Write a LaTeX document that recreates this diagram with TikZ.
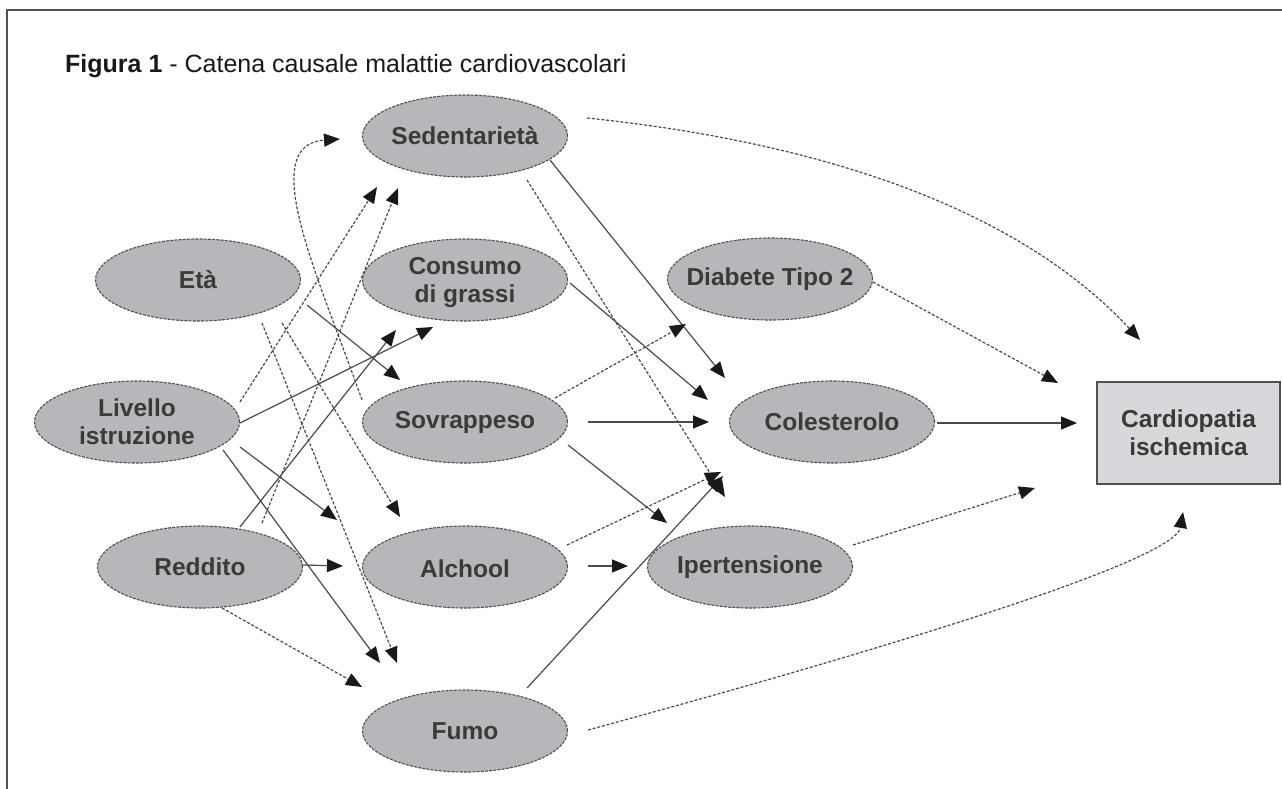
\documentclass[tikz,border=0pt]{standalone}
\usepackage{fontspec}
\setmainfont{Liberation Sans}
\usetikzlibrary{arrows.meta,shapes.geometric}
\definecolor{ellfill}{HTML}{B5B7BA}
\definecolor{boxfill}{HTML}{D6D8DB}
\definecolor{edgecol}{HTML}{505050}
\definecolor{linecol}{HTML}{4A4A4A}
\definecolor{txtcol}{HTML}{3A3A3A}
\begin{document}
\begin{tikzpicture}[x=1pt,y=-1pt,
  ell/.style={ellipse, draw=edgecol, fill=ellfill, line width=1.1pt,
    dash pattern=on 3pt off 1.2pt, minimum width=205pt, minimum height=82pt, inner sep=0pt},
  lbl/.style={align=center, text=txtcol, inner sep=0pt,
    font=\fontsize{24.5}{28}\selectfont\bfseries},
  boxnode/.style={rectangle, draw=edgecol, fill=boxfill, line width=2pt,
    minimum width=183pt, minimum height=102pt, inner sep=0pt, align=center,
    text=txtcol, font=\fontsize{24.5}{28}\selectfont\bfseries},
  ln/.style={draw=linecol, line width=1.2pt, -{Triangle[length=16pt,width=13pt,color=black!90]}},
  dl/.style={ln, dash pattern=on 3pt off 1.8pt}
]
\useasboundingbox (0,0) rectangle (1282,789);
% frame
\draw[line width=2pt, draw=edgecol] (1282,10) -- (7,10) -- (7,789);
% title
\node[anchor=base west, inner sep=0pt, text=black!90,
  font=\fontsize{25}{30}\selectfont] (title) at (65,73)
  {\textbf{Figura 1} - Catena causale malattie cardiovascolari};

% nodes
\node[ell] (eta) at (198,280) {};
\node[ell] (liv) at (137,422) {};
\node[ell] (red) at (200,567) {};
\node[ell] (sed) at (465,136) {};
\node[ell] (con) at (465,280) {};
\node[ell] (sov) at (465,422) {};
\node[ell] (alc) at (465,567) {};
\node[ell] (fum) at (465,731) {};
\node[ell] (dia) at (770,279) {};
\node[ell] (col) at (832,422) {};
\node[ell] (ipe) at (750,567) {};
\node[boxnode] (car) at (1188.5,433) {Cardiopatia\\ischemica};

\node[lbl] (eta-t) at (eta) {Età};
\node[lbl] (liv-t) at (liv) {Livello\\istruzione};
\node[lbl] (red-t) at (red) {Reddito};
\node[lbl] (sed-t) at (sed) {Sedentarietà};
\node[lbl] (con-t) at ([yshift=-3pt]con.center) {Consumo\\di grassi};
\node[lbl] (sov-t) at (sov) {Sovrappeso};
\node[lbl] (alc-t) at ([yshift=-2pt]alc.center) {Alchool};
\node[lbl] (fum-t) at (fum) {Fumo};
\node[lbl] (dia-t) at (dia) {Diabete Tipo 2};
\node[lbl] (col-t) at (col) {Colesterolo};
\node[lbl] (ipe-t) at (ipe) {Ipertensione};

% connector ends
\coordinate (eta-o1) at (307,305);
\coordinate (eta-o2) at (282,323);
\coordinate (eta-o3) at (262,323);
\coordinate (liv-o1) at (240,402);
\coordinate (liv-o2) at (240,423);
\coordinate (liv-o3) at (240,447);
\coordinate (liv-o4) at (223,450);
\coordinate (red-o1) at (240,527);
\coordinate (red-o2) at (262,523);
\coordinate (red-o3) at (303,565);
\coordinate (red-o4) at (222,608);
\coordinate (sov-o1) at (362,400);
\coordinate (sed-o1) at (550,160);
\coordinate (sed-o2) at (527,180);
\coordinate (sed-o3) at (587,118);
\coordinate (con-o1) at (570,283);
\coordinate (sov-o2) at (555,398);
\coordinate (sov-o3) at (588,422);
\coordinate (sov-o4) at (568,445);
\coordinate (alc-o1) at (567,545);
\coordinate (alc-o2) at (588,566);
\coordinate (fum-o1) at (527,688);
\coordinate (fum-o2) at (588,730);
\coordinate (dia-o1) at (873,282);
\coordinate (col-o1) at (937,423);
\coordinate (ipe-o1) at (853,545);

\coordinate (sov-i1) at (400,380);
\coordinate (alc-i1) at (400,517);
\coordinate (fum-i1) at (397,663);
\coordinate (sed-i1) at (377,187);
\coordinate (con-i1) at (433,327);
\coordinate (alc-i2) at (337,520);
\coordinate (fum-i2) at (380,663);
\coordinate (con-i2) at (396,330);
\coordinate (sed-i2) at (398,188);
\coordinate (alc-i3) at (343,566);
\coordinate (fum-i3) at (362,687);
\coordinate (sed-i3) at (340,139);
\coordinate (col-i1) at (725,378);
\coordinate (ipe-i1) at (725,497);
\coordinate (col-i2) at (708,400);
\coordinate (dia-i1) at (686,324);
\coordinate (col-i3) at (709,422);
\coordinate (ipe-i2) at (667,523);
\coordinate (col-i4) at (721,472);
\coordinate (col-i5) at (723,476);
\coordinate (ipe-i3) at (628,566);
\coordinate (car-i1) at (1058,383);
\coordinate (car-i2) at (1077,423);
\coordinate (car-i3) at (1035,488);
\coordinate (car-i4) at (1140,340);
\coordinate (car-i5) at (1183,512);

% left cluster
\draw[ln] (eta-o1) -- (sov-i1);
\draw[dl] (eta-o2) -- (alc-i1);
\draw[dl] (eta-o3) -- (fum-i1);
\draw[dl] (liv-o1) -- (sed-i1);
\draw[ln] (liv-o2) -- (con-i1);
\draw[ln] (liv-o3) -- (alc-i2);
\draw[ln] (liv-o4) -- (fum-i2);
\draw[ln] (red-o1) -- (con-i2);
\draw[dl] (red-o2) -- (sed-i2);
\draw[ln] (red-o3) -- (alc-i3);
\draw[dl] (red-o4) -- (fum-i3);
\draw[dl] (sov-o1) .. controls (320,280) and (255,145) .. (sed-i3);

% middle cluster
\draw[ln] (sed-o1) -- (col-i1);
\draw[dl] (sed-o2) -- (ipe-i1);
\draw[ln] (con-o1) -- (col-i2);
\draw[dl] (sov-o2) -- (dia-i1);
\draw[ln] (sov-o3) -- (col-i3);
\draw[ln] (sov-o4) -- (ipe-i2);
\draw[dl] (alc-o1) -- (col-i4);
\draw[ln] (fum-o1) -- (col-i5);
\draw[ln] (alc-o2) -- (ipe-i3);

% right cluster
\draw[dl] (dia-o1) -- (car-i1);
\draw[ln] (col-o1) -- (car-i2);
\draw[dl] (ipe-o1) -- (car-i3);
\draw[dl] (sed-o3) .. controls (800,140) and (1010,200) .. (car-i4);
\draw[dl] (fum-o2) .. controls (900,645) and (1175,560) .. (car-i5);
\end{tikzpicture}
\end{document}
